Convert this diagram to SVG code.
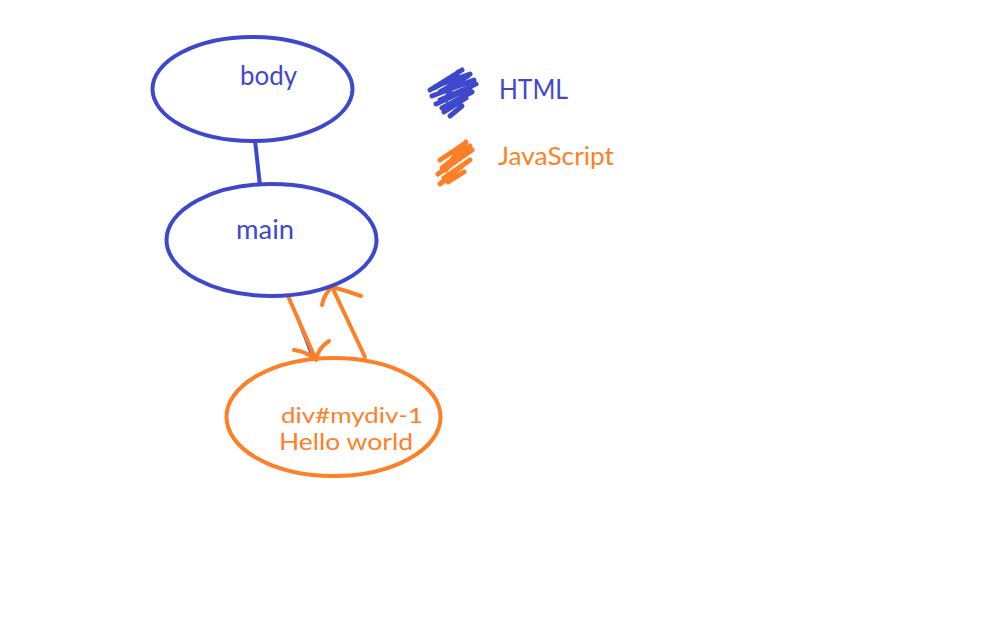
<svg xmlns="http://www.w3.org/2000/svg" width="1008" height="630" viewBox="0 0 1008 630">
<style>
.b{fill:none;stroke:#3f48cc;stroke-width:4}
.o{fill:none;stroke:#ff7f27;stroke-width:4;stroke-linecap:round;stroke-linejoin:round}
.tb{fill:#3f48cc;font-family:Lato,"Open Sans",sans-serif;font-size:26px}
.to{fill:#ff7f27;font-family:Lato,"Open Sans",sans-serif;font-size:22px}
</style>
<rect width="1008" height="630" fill="#fff"/>
<g id="connectors">
<line x1="255" y1="140" x2="260" y2="186" class="b"/>
<line x1="289" y1="297" x2="312" y2="358" stroke="#3f48cc" stroke-width="1.5"/>
<path class="o" d="M288 296 L316 360 M294 350 Q308 352 316 360 Q318 348 329 341"/>
<path class="o" d="M365 357 L332 287 M322 305 Q324 294 332 287 Q344 290 361 296"/>
</g>
<g id="body">
<ellipse cx="252.5" cy="89" rx="100" ry="52" class="b"/>
<text x="240" y="85" class="tb" textLength="57" lengthAdjust="spacingAndGlyphs">body</text>
</g>
<g id="main">
<ellipse cx="271.5" cy="240" rx="105" ry="56" class="b"/>
<text x="236" y="239" class="tb" textLength="58" lengthAdjust="spacingAndGlyphs">main</text>
</g>
<g id="div">
<ellipse cx="333.5" cy="417" rx="107" ry="59" stroke="#ff7f27" stroke-width="4" fill="none"/>
<text x="281" y="423" class="to" textLength="142" lengthAdjust="spacingAndGlyphs">div#mydiv-1</text>
<text x="279" y="450" class="to" style="font-size:23px" textLength="134" lengthAdjust="spacingAndGlyphs">Hello world</text>
</g>
<g id="legend">
<path d="M430 90 L462 70 M436 86 L470 74 M440 92 L468 76 M432 96 L474 80 M440 100 L476 84 M436 104 L470 88 M442 108 L472 92 M444 112 L466 98 M450 116 L462 106 M446 100 L458 72 M434 88 L452 78" fill="none" stroke="#3f48cc" stroke-width="5" stroke-linecap="round"/>
<text x="499" y="99" class="tb" textLength="69" lengthAdjust="spacingAndGlyphs">HTML</text>
<path d="M440 160 L464 144 M442 168 L470 146 M438 174 L472 150 M444 178 L470 160 M440 184 L462 166 M448 182 L464 172 M452 164 L466 142 M446 170 L458 150" fill="none" stroke="#ff7f27" stroke-width="5" stroke-linecap="round"/>
<text x="498" y="165" class="to" style="font-size:25px" textLength="116" lengthAdjust="spacingAndGlyphs">JavaScript</text>
</g>
</svg>
